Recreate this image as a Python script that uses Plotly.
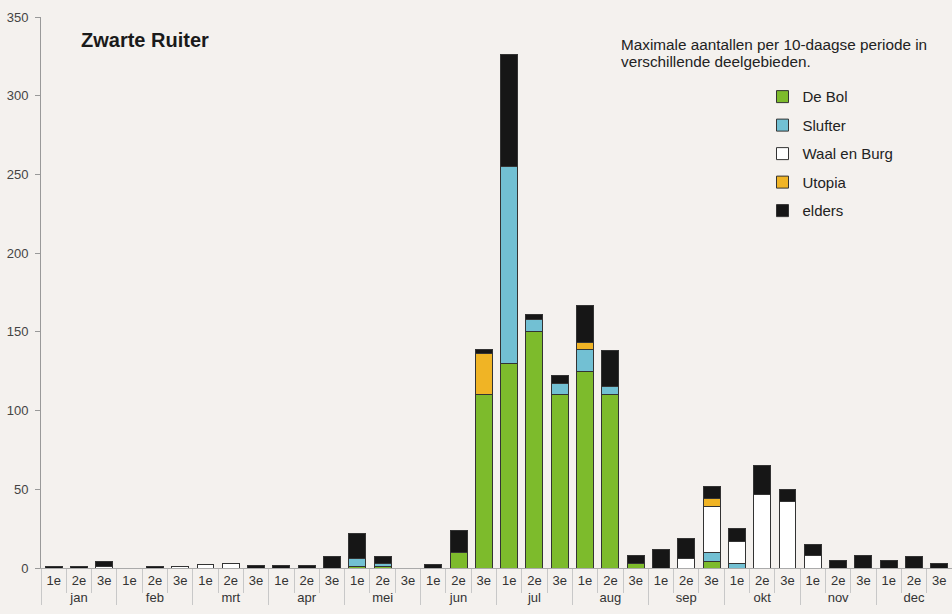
import plotly.graph_objects as go

months = ["jan", "feb", "mrt", "apr", "mei", "jun", "jul", "aug", "sep", "okt", "nov", "dec"]
decades = ["1e", "2e", "3e"]

de_bol = [0, 0, 0, 0, 0, 0, 0, 0, 0, 0, 0, 0, 1, 1, 0, 0, 10, 110,
          130, 150, 110, 125, 110, 3, 0, 0, 4, 0, 0, 0, 0, 0, 0, 0, 0, 0]
slufter = [0, 0, 0, 0, 0, 0, 0, 0, 0, 0, 0, 0, 5, 2, 0, 0, 0, 0,
           125, 8, 7, 14, 5, 0, 0, 0, 6, 3, 0, 0, 0, 0, 0, 0, 0, 0]
waal_en_burg = [0, 0, 1, 0, 0, 1, 2, 3, 0, 0, 0, 0, 0, 0, 0, 0, 0, 0,
                0, 0, 0, 0, 0, 0, 0, 6, 29, 14, 47, 42, 8, 0, 0, 0, 0, 0]
utopia = [0, 0, 0, 0, 0, 0, 0, 0, 0, 0, 0, 0, 0, 0, 0, 0, 0, 26,
          0, 0, 0, 4, 0, 0, 0, 0, 5, 0, 0, 0, 0, 0, 0, 0, 0, 0]
elders = [1, 1, 3, 0, 1, 0, 0, 0, 1.5, 1.5, 1.5, 7, 16, 4, 0, 2, 14, 3,
          71, 3, 5, 24, 23, 5, 12, 13, 8, 8, 18, 8, 7, 5, 8, 5, 7, 3]

series = [
    ("De Bol", de_bol, "#7dbb2c"),
    ("Slufter", slufter, "#72c0d3"),
    ("Waal en Burg", waal_en_burg, "#ffffff"),
    ("Utopia", utopia, "#f0b425"),
    ("elders", elders, "#161616"),
]

x_outer = [m for m in months for _ in decades]
x_inner = [d for _ in months for d in decades]

bg = "#f4f1ee"
fig = go.Figure()
for name, vals, col in series:
    fig.add_trace(go.Bar(
        x=[x_outer, x_inner],
        y=[v if v else None for v in vals],
        name=name,
        legendgroup=name,
        marker=dict(color=col, line=dict(color="#333333", width=1)),
    ))

fig.update_layout(
    width=952, height=614,
    barmode="stack",
    bargap=0.33,
    paper_bgcolor=bg,
    plot_bgcolor=bg,
    margin=dict(l=41, r=0, t=17, b=46),
    font=dict(family="Liberation Sans, Arial, sans-serif", color="#333333", size=12),
    showlegend=True,
    legend=dict(
        x=0.792, y=0.885, xanchor="left", yanchor="top",
        traceorder="grouped",
        tracegroupgap=6,
        font=dict(size=15, color="#222222"),
        bgcolor="rgba(0,0,0,0)",
        itemwidth=30,
    ),
    xaxis=dict(
        type="multicategory",
        automargin=False,
        showline=True, linecolor="#aaaaaa", linewidth=1,
        ticks="outside", ticklen=24, tickcolor="#c8c8c8",
        dividercolor="#c8c8c8", dividerwidth=1,
        tickfont=dict(size=13, color="#333333"),
        showgrid=False,
    ),
    yaxis=dict(
        automargin=False,
        range=[0, 350], dtick=50,
        showline=True, linecolor="#999999", linewidth=1,
        ticks="outside", ticklen=5, tickcolor="#999999",
        ticklabelstandoff=4,
        showgrid=False, zeroline=False,
        tickfont=dict(size=13, color="#444444"),
    ),
    annotations=[
        dict(text="<b>Zwarte Ruiter</b>", xref="paper", yref="paper",
             x=0.042, y=0.958, xanchor="left", yanchor="middle", showarrow=False,
             font=dict(size=20, color="#1a1a1a")),
        dict(text="Maximale aantallen per 10-daagse periode in",
             xref="paper", yref="paper", x=0.634, y=0.95, xanchor="left", yanchor="middle",
             showarrow=False, align="left", font=dict(size=15.3, color="#222222")),
        dict(text="verschillende deelgebieden.",
             xref="paper", yref="paper", x=0.634, y=0.919, xanchor="left", yanchor="middle",
             showarrow=False, align="left", font=dict(size=15.3, color="#222222")),
    ],
)

fig.write_html(
    "out.html",
    config={"displayModeBar": False},
    post_script="document.body.style.margin='0';document.body.style.background='%s';" % bg,
)
